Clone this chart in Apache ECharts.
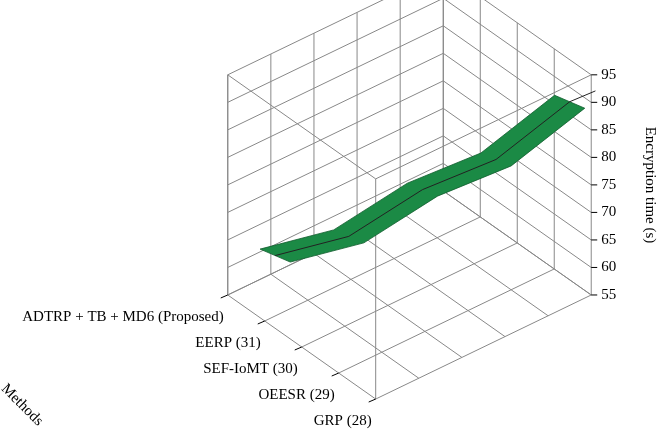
<!DOCTYPE html>
<html><head><meta charset="utf-8">
<script src="https://cdn.jsdelivr.net/npm/echarts@6/dist/echarts.min.js"></script>
<style>html,body{margin:0;padding:0;background:#fff}#c{width:664px;height:430px}</style>
</head><body><div id="c"></div>
<script>
const methods = ['ADTRP + TB + MD6 (Proposed)', 'EERP (31)', 'SEF-IoMT (30)', 'OEESR (29)', 'GRP (28)'];
const encTime = [58, 63, 73, 80, 92];
const zTicks = [55, 60, 65, 70, 75, 80, 85, 90, 95];
const zMin = 55, zMax = 95;

const chart = echarts.init(document.getElementById('c'));
const W = chart.getWidth(), H = chart.getHeight();
const base = [W * 0.343, H * 0.686];
const u = [W * 0.0557, H * 0.0605];
const v = [W * 0.3246, -H * 0.242];
const wz = -H * 0.512 / (zMax - zMin);
function P(m, x, z) { return [base[0] + m * u[0] + x * v[0], base[1] + m * u[1] + x * v[1] + (z - zMin) * wz]; }

const g = [];
const ln = (a, b, c) => g.push({type: 'line', shape: {x1: a[0], y1: a[1], x2: b[0], y2: b[1]}, style: {stroke: c || '#888', lineWidth: 1}, silent: true});
const nm = methods.length - 1;
for (let i = 0; i <= nm; i++) ln(P(i, 0, zMin), P(i, 1, zMin));
for (let k = 0; k <= 5; k++) ln(P(0, k / 5, zMin), P(nm, k / 5, zMin));
for (const z of zTicks) ln(P(0, 0, z), P(0, 1, z));
for (let k = 0; k <= 5; k++) ln(P(0, k / 5, zMin), P(0, k / 5, zMax));
for (const z of zTicks) ln(P(0, 1, z), P(nm, 1, z));
for (let i = 0; i <= nm; i++) ln(P(i, 1, zMin), P(i, 1, zMax));
ln(P(0, 0, zMax), P(nm, 0, zMax)); ln(P(nm, 0, zMax), P(nm, 1, zMax));
ln(P(nm, 0, zMin), P(nm, 0, zMax)); ln(P(0, 0, zMin), P(0, 0, zMax));
methods.forEach((t, i) => {
  const p = P(i, 0, zMin);
  g.push({type: 'text', x: p[0] - 4, y: p[1] + 22, style: {text: t, align: 'right', verticalAlign: 'middle', font: '15px "Liberation Serif"', fill: '#000'}});
  ln([p[0] - 7, p[1] + 3], [p[0], p[1]], '#000');
});
zTicks.forEach(z => {
  const p = P(nm, 1, z);
  g.push({type: 'text', x: p[0] + 10, y: p[1], style: {text: String(z), align: 'left', verticalAlign: 'middle', font: '15px "Liberation Serif"', fill: '#000'}});
  ln(p, [p[0] + 6, p[1]], '#000');
});
g.push({type: 'text', x: 650, y: 185, rotation: -Math.PI / 2, style: {text: 'Encryption time (s)', align: 'center', verticalAlign: 'middle', font: '15px "Liberation Serif"', fill: '#000'}});
g.push({type: 'text', x: 22, y: 405, rotation: -Math.PI / 4, style: {text: 'Methods', align: 'center', verticalAlign: 'middle', font: '15px "Liberation Serif"', fill: '#000'}});

const dx = i => 0.22 + 0.17 * i;
chart.setOption({
  animation: false,
  graphic: g,
  series: [{
    type: 'custom', coordinateSystem: 'none',
    data: [0],
    renderItem: () => {
      const top = encTime.map((z, i) => P(i, dx(i) - 0.07, z + 2.5));
      const bot = encTime.map((z, i) => P(i, dx(i) + 0.07, z - 2.5)).reverse();
      const mid = encTime.map((z, i) => P(i, dx(i), z));
      const end = P(nm + 0.35, dx(nm + 0.35), encTime[nm] + 2.5);
      return {type: 'group', children: [
        {type: 'polygon', shape: {points: top.concat(bot)}, style: {fill: '#1b8a45', stroke: '#0f5c2c', lineWidth: 0.8}},
        {type: 'polyline', shape: {points: mid.concat([end])}, style: {stroke: '#222', lineWidth: 1, fill: null}}
      ]};
    }
  }]
});
</script></body></html>
